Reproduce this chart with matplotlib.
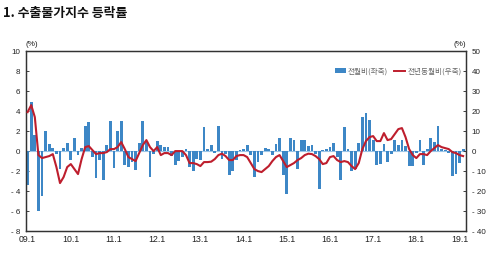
#!/usr/bin/env python

import numpy as np
import matplotlib
matplotlib.use("Agg")
import matplotlib.pyplot as plt
from matplotlib.patches import Patch
from matplotlib.lines import Line2D

""" 수출물가지수 등락률 (전월비 / 전년동월비), 2009.1 ~ 2019.2 """

# month-on-month change (%), left axis
mom = [-3.4, 4.9, 1.6, -6.0, -4.5, 2.0, 0.7, 0.3, -0.3, -1.8, 0.3, 0.8,
       -0.9, 1.3, -0.4, 0.3, 2.5, 2.9, -0.6, -2.7, -0.9, -2.9, 0.6, 3.0,
       -1.7, 2.0, 3.0, -1.4, -1.6, -1.1, -1.9, 0.8, 3.0, 0.9, -2.6, -0.3,
       1.0, 0.6, 0.4, 0.4, -0.5, -1.4, -1.0, -0.6, 0.2, -1.6, -2.0, -0.8,
       -0.9, 2.4, 0.2, 0.6, -0.2, 2.5, -0.8, -0.3, -2.4, -2.0, -0.9, 0.1,
       0.2, 0.6, -0.4, -2.6, -1.1, -0.4, 0.3, 0.2, -0.4, 0.7, 1.3, -2.4,
       -4.3, 1.3, 1.1, -1.8, 1.1, 1.1, 0.5, 0.6, -0.3, -3.8, 0.1, 0.2,
       0.4, 0.8, -0.6, -2.9, 2.4, 0.2, -2.0, -1.8, 0.8, 3.4, 3.8, 3.1,
       1.1, -1.4, -1.3, 0.7, -1.1, -0.3, 1.1, 0.6, 1.1, 0.5, -1.5, -1.5,
       -0.2, 1.1, -1.4, 0.2, 1.3, 0.9, 2.5, 0.2, 0.1, -0.2, -2.5, -2.3,
       -1.2, 0.2]

# year-on-year change (%), right axis
yoy = [19.5, 23.0, 17.0, -2.0, -3.5, -3.0, -2.5, -1.5, -8.0, -16.0, -13.0, -8.0,
       -6.5, -9.0, -11.5, -4.0, 2.0, 2.5, 0.5, -1.5, -1.0, -1.0, -0.5, 1.0,
       1.0, 2.0, 4.5, 1.0, -3.0, -4.0, -5.0, -1.0, 3.0, 5.5, 2.0, 0.0,
       2.0, -2.0, -1.0, -1.0, -2.0, 0.0, 0.0, 0.0, -2.0, -6.0, -6.0, -6.5,
       -7.5, -5.5, -5.5, -5.3, -4.0, -2.0, -1.3, -2.5, -4.5, -4.5, -2.5, -2.0,
       -2.0, -3.0, -6.0, -9.0, -10.0, -10.5, -9.0, -7.5, -5.0, -3.0, -2.0, -5.0,
       -8.0, -7.0, -6.0, -4.5, -3.5, -2.0, -1.3, -1.5, -2.5, -4.0, -6.5, -6.0,
       -3.0, -2.5, -4.5, -5.5, -5.0, -5.5, -7.5, -9.0, -6.0, 1.0, 5.0, 7.0,
       7.5, 5.0, 5.0, 9.0, 5.5, 6.0, 8.5, 11.0, 11.5, 7.0, 1.0, -2.0,
       -3.5, -1.5, -1.5, -2.0, 0.0, 1.5, 3.0, 2.0, 1.5, 1.0, -0.5, -1.0,
       -2.0, -2.5]

xlabels = ["09.1", "10.1", "11.1", "12.1", "13.1", "14.1",
           "15.1", "16.1", "17.1", "18.1", "19.1"]
left_ticks = [10, 8, 6, 4, 2, 0, -2, -4, -6, -8]
right_ticks = [50, 40, 30, 20, 10, 0, -10, -20, -30, -40]

BLUE = "#3d87c6"
RED = "#be1e2d"
NARROW = ["Liberation Sans Narrow", "Liberation Sans", "DejaVu Sans"]
KR = ["Noto Sans CJK KR", "DejaVu Sans"]


def fmt(v):
    return "- %d" % -v if v < 0 else "%d" % v


def main():
    x = np.arange(len(mom))

    fig = plt.figure(figsize=(5.0, 2.57), dpi=100)
    ax = fig.add_axes([0.052, 0.101, 0.880, 0.700])
    ax2 = ax.twinx()

    ax.bar(x, mom, width=0.78, color=BLUE, zorder=2)
    ax.axhline(0, color="#9cc6e8", lw=0.8, zorder=1)
    ax2.plot(x, yoy, color=RED, lw=1.5, zorder=3)

    ax.set_xlim(-0.45, 121.8)
    ax.set_ylim(-8, 10)
    ax2.set_ylim(-40, 50)

    ax.set_yticks(left_ticks)
    ax.set_yticklabels([fmt(v) for v in left_ticks], family=NARROW, fontsize=5.8)
    ax2.set_yticks(right_ticks)
    ax2.set_yticklabels([fmt(v) for v in right_ticks], family=NARROW, fontsize=5.8)
    ax.set_xticks(np.arange(0, 121, 12))
    ax.set_xticklabels(xlabels, family=NARROW, fontsize=6.3)

    ax.tick_params(axis="y", direction="in", length=2, width=0.6, pad=4, colors="#222")
    ax2.tick_params(axis="y", direction="in", length=2, width=0.6, pad=4, colors="#222")
    ax.tick_params(axis="x", length=0, pad=3, colors="#222")

    for a in (ax, ax2):
        for s in a.spines.values():
            s.set_color("#333333")
            s.set_linewidth(0.9)

    ax.text(0.0, 1.015, "(%)", transform=ax.transAxes, ha="left", va="bottom",
            family=NARROW, fontsize=5.8, color="#222")
    ax.text(1.0, 1.015, "(%)", transform=ax.transAxes, ha="right", va="bottom",
            family=NARROW, fontsize=5.8, color="#222")

    handles = [Patch(facecolor=BLUE, edgecolor="none"),
               Line2D([0], [0], color=RED, lw=1.4)]
    leg = ax2.legend(handles, ["전월비(좌축)", "전년동월비(우축)"], ncol=2,
                     loc="center right", bbox_to_anchor=(1.0, 0.889),
                     frameon=False, handlelength=1.4, handleheight=0.5,
                     handletextpad=0.3, columnspacing=0.8, borderaxespad=0.2,
                     prop={"family": KR, "size": 5.5})
    for t in leg.get_texts():
        t.set_color("#666666")

    fig.text(0.006, 0.948, "1. 수출물가지수 등락률", ha="left", va="center",
             family=KR, fontsize=9.3, fontweight="bold", color="#111")

    fig.savefig("out.png", dpi=100)


if __name__ == "__main__":
    main()
